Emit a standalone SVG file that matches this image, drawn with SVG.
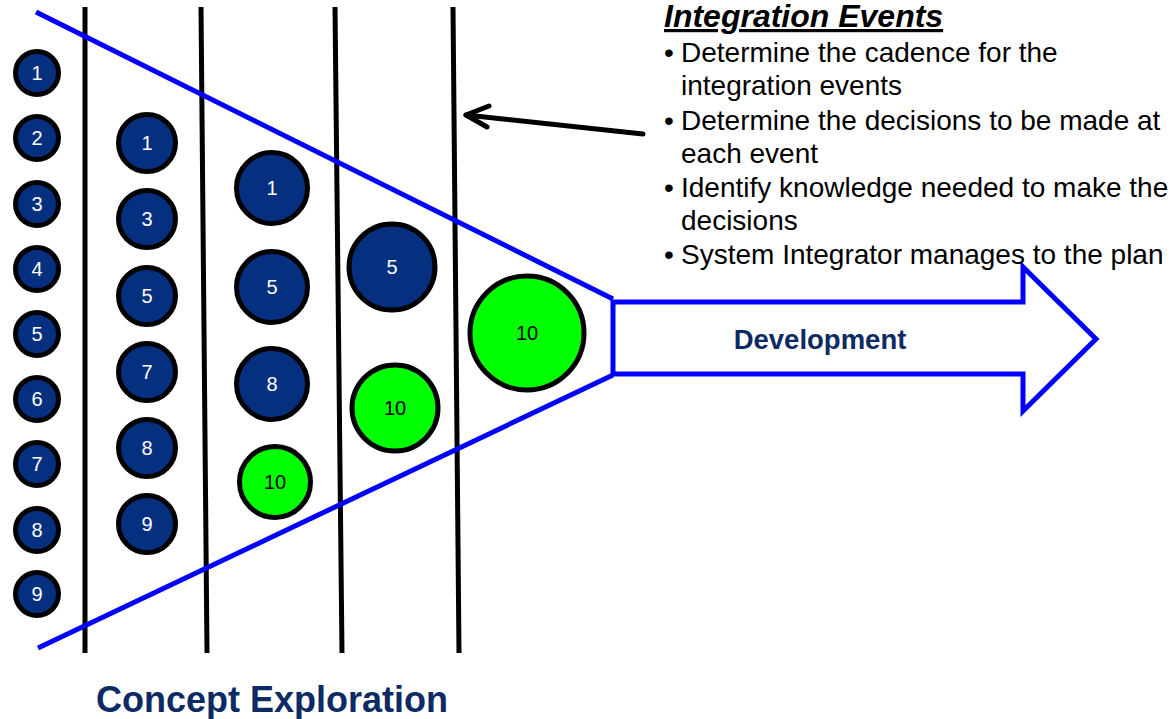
<svg xmlns="http://www.w3.org/2000/svg" width="1173" height="719" viewBox="0 0 1173 719">
<defs>
<style>
.vl{stroke:#000;stroke-width:5;fill:none}
.bl{stroke:#0000ff;stroke-width:5;fill:none}
.nb{fill:#04307f;stroke:#000;stroke-width:5}
.ng{fill:#00ff00;stroke:#000;stroke-width:5}
.tw{font-family:"Liberation Sans",Arial,sans-serif;font-size:20px;fill:#fff;text-anchor:middle}
.tk{font-family:"Liberation Sans",Arial,sans-serif;font-size:20px;fill:#000;text-anchor:middle}
.bt{font-family:"Liberation Sans",Arial,sans-serif;font-size:28px;fill:#000}
.hd{font-family:"Liberation Sans",Arial,sans-serif;font-weight:bold;fill:#0c2a64}
</style>
</defs>
<rect width="1173" height="719" fill="#fff"/>
<g id="columns">
<line class="vl" x1="85" y1="7" x2="85" y2="653"/>
<line class="vl" x1="201" y1="7" x2="207" y2="653"/>
<line class="vl" x1="335" y1="7" x2="342" y2="653"/>
<line class="vl" x1="453" y1="7" x2="459" y2="653"/>
</g>
<g id="funnel">
<line class="bl" x1="36" y1="12" x2="613" y2="299"/>
<line class="bl" x1="38" y1="648" x2="613" y2="375"/>
</g>
<g id="development">
<polygon class="bl" style="fill:#fff" points="613,302 1023,302 1023,267 1096,339 1023,411 1023,374 613,374"/>
<text class="hd" x="820" y="349" font-size="27.5" text-anchor="middle">Development</text>
</g>
<g id="col1">
<g id="c1-1"><circle class="nb" cx="37" cy="73" r="21.5"/><text class="tw" x="37" y="80">1</text></g>
<g id="c1-2"><circle class="nb" cx="37" cy="138" r="21.5"/><text class="tw" x="37" y="145">2</text></g>
<g id="c1-3"><circle class="nb" cx="37" cy="204" r="21.5"/><text class="tw" x="37" y="211">3</text></g>
<g id="c1-4"><circle class="nb" cx="37" cy="269" r="21.5"/><text class="tw" x="37" y="276">4</text></g>
<g id="c1-5"><circle class="nb" cx="37" cy="334" r="21.5"/><text class="tw" x="37" y="341">5</text></g>
<g id="c1-6"><circle class="nb" cx="37" cy="399" r="21.5"/><text class="tw" x="37" y="406">6</text></g>
<g id="c1-7"><circle class="nb" cx="37" cy="464" r="21.5"/><text class="tw" x="37" y="471">7</text></g>
<g id="c1-8"><circle class="nb" cx="37" cy="530" r="21.5"/><text class="tw" x="37" y="537">8</text></g>
<g id="c1-9"><circle class="nb" cx="37" cy="594" r="21.5"/><text class="tw" x="37" y="601">9</text></g>
</g>
<g id="col2">
<g id="c2-1"><circle class="nb" cx="147" cy="143" r="28.5"/><text class="tw" x="147" y="150">1</text></g>
<g id="c2-3"><circle class="nb" cx="147" cy="219" r="28.5"/><text class="tw" x="147" y="226">3</text></g>
<g id="c2-5"><circle class="nb" cx="147" cy="296" r="28.5"/><text class="tw" x="147" y="303">5</text></g>
<g id="c2-7"><circle class="nb" cx="147" cy="372" r="28.5"/><text class="tw" x="147" y="379">7</text></g>
<g id="c2-8"><circle class="nb" cx="147" cy="448" r="28.5"/><text class="tw" x="147" y="455">8</text></g>
<g id="c2-9"><circle class="nb" cx="147" cy="524" r="28.5"/><text class="tw" x="147" y="531">9</text></g>
</g>
<g id="col3">
<g id="c3-1"><circle class="nb" cx="272" cy="188" r="35.5"/><text class="tw" x="272" y="195">1</text></g>
<g id="c3-5"><circle class="nb" cx="272" cy="287" r="35.5"/><text class="tw" x="272" y="294">5</text></g>
<g id="c3-8"><circle class="nb" cx="272" cy="384" r="35.5"/><text class="tw" x="272" y="391">8</text></g>
<g id="c3-10"><circle class="ng" cx="275" cy="482" r="35.5"/><text class="tk" x="275" y="489">10</text></g>
</g>
<g id="col4">
<g id="c4-5"><circle class="nb" cx="392" cy="267" r="43"/><text class="tw" x="392" y="274">5</text></g>
<g id="c4-10"><circle class="ng" cx="395" cy="408" r="43"/><text class="tk" x="395" y="415">10</text></g>
</g>
<g id="col5">
<g id="c5-10"><circle class="ng" cx="527" cy="333" r="57"/><text class="tk" x="527" y="340">10</text></g>
</g>
<g id="connectors">
<polyline points="643,134 466,115" fill="none" stroke="#000" stroke-width="5" stroke-linecap="round"/>
<polyline points="489,106 466,115 487,127" fill="none" stroke="#000" stroke-width="5" stroke-linecap="round" stroke-linejoin="round"/>
</g>
<g id="integration-events">
<text x="664" y="27" font-family="Liberation Sans, Arial, sans-serif" font-size="32" font-weight="bold" font-style="italic" text-decoration="underline" fill="#000">Integration Events</text>
<text class="bt" x="664" y="62">•</text><text class="bt" x="681" y="62">Determine the cadence for the</text>
<text class="bt" x="681" y="95">integration events</text>
<text class="bt" x="664" y="130">•</text><text class="bt" x="681" y="130">Determine the decisions to be made at</text>
<text class="bt" x="681" y="163">each event</text>
<text class="bt" x="664" y="197">•</text><text class="bt" x="681" y="197">Identify knowledge needed to make the</text>
<text class="bt" x="681" y="230">decisions</text>
<text class="bt" x="664" y="264">•</text><text class="bt" x="681" y="264">System Integrator manages to the plan</text>
</g>
<g id="concept-exploration">
<text class="hd" x="272" y="712" font-size="36" text-anchor="middle">Concept Exploration</text>
</g>
</svg>
